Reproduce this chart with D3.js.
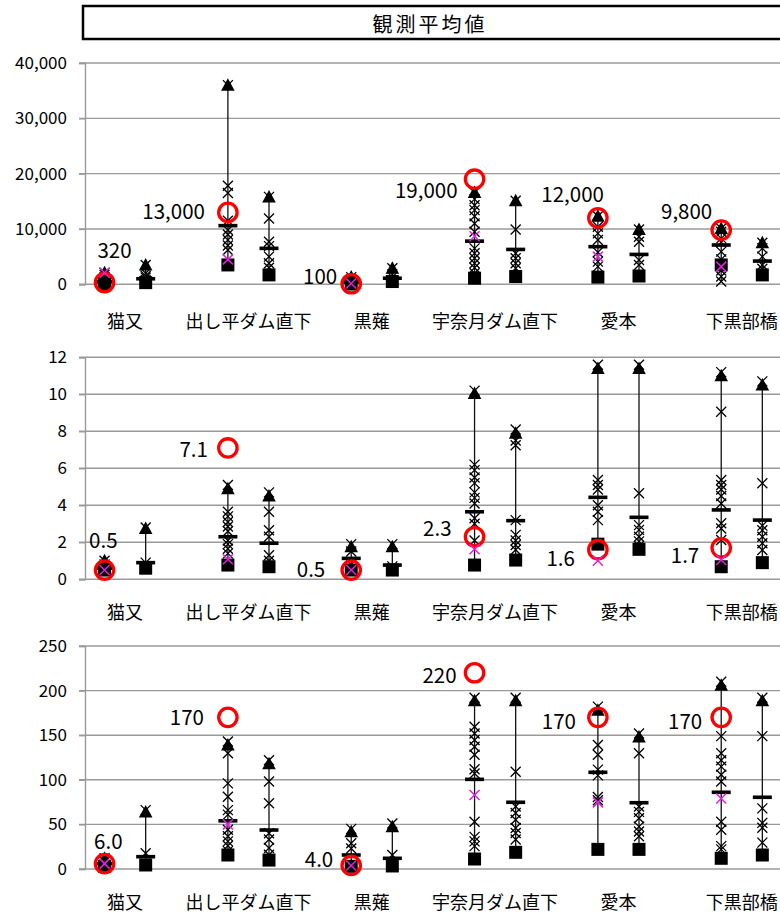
<!DOCTYPE html>
<html><head><meta charset="utf-8">
<script src="https://cdn.jsdelivr.net/npm/d3@7"></script>
<style>
body{margin:0;background:#fff}
svg{display:block}
text{font-family:"Noto Sans CJK JP","Noto Sans",sans-serif;fill:#000}
</style>
</head><body>
<script>
// Stations (each has a left and a right column of observations)
const stations = ["猫又", "出し平ダム直下", "黒薙", "宇奈月ダム直下", "愛本", "下黒部橋"];
const chartTitle = "観測平均値";

// Y-axis ticks per panel
const yTicks1 = [0, 10000, 20000, 30000, 40000];
const yTicks2 = [0, 2, 4, 6, 8, 10, 12];
const yTicks3 = [0, 50, 100, 150, 200, 250];

// Panel 1 — [left, right] per station
const p1Min  = [[80, 300], [3500, 1700], [50, 500], [1100, 1400], [1300, 1500], [3500, 1700]];
const p1Max  = [[2100, 3500], [36000, 15800], [1300, 2900], [16600, 15100], [12300, 9900], [10100, 7500]];
const p1Mean = [[450, 1000], [10600, 6500], [400, 1100], [7800, 6300], [6800, 5400], [7100, 4200]];
const p1Obs  = [
  [[2100, 1700, 1300, 900, 600, 300], [3500, 2000, 1500, 1200, 800, 500]],
  [[36000, 17800, 16500, 11500, 9800, 9000, 8000, 7000, 6200], [15800, 11900, 7700, 6900, 5000, 3800, 3000]],
  [[1300, 900, 600], [2900, 1800, 1300, 700]],
  [[16600, 15400, 14300, 13400, 12300, 11000, 9500, 6500, 5600, 4700, 3800, 3000, 2000], [15100, 9900, 5600, 4700, 3800, 2900]],
  [[12300, 10400, 9200, 8000, 5800, 4100, 3200], [9900, 8600, 7700, 4400, 3500]],
  [[10100, 9500, 8300, 7600, 5900, 4500, 2500, 1400, 500], [7500, 6500, 5000, 3500, 2800]]
];
const p1Pink   = [2100, 4500, 150, 8700, 5000, 3200];
const p1Circle = [320, 13000, 100, 19000, 12000, 9800];

// Panel 2
const p2Min  = [[0.5, 0.6], [0.77, 0.68], [0.5, 0.5], [0.77, 1.04], [1.9, 1.62], [0.68, 0.9]];
const p2Max  = [[1.0, 2.75], [4.9, 4.5], [1.76, 1.76], [10.05, 7.9], [11.4, 11.4], [11.0, 10.5]];
const p2Mean = [[0.6, 0.9], [2.3, 1.95], [1.13, 0.77], [3.65, 3.17], [4.43, 3.35], [3.75, 3.2]];
const p2Obs  = [
  [[1.0, 0.8, 0.6], [2.8, 0.9, 0.7]],
  [[5.1, 3.65, 3.4, 3.1, 2.85, 2.6, 2.1, 1.9, 1.65, 1.4], [4.7, 3.65, 2.65, 2.3, 1.3, 1.0]],
  [[1.9, 1.5, 0.8], [1.9, 0.7]],
  [[10.2, 6.2, 5.9, 5.5, 5.2, 4.7, 4.4, 4.1, 3.3, 3.0, 2.1], [8.1, 7.5, 7.25, 3.2, 2.4, 2.1, 1.85, 1.6]],
  [[11.6, 5.37, 5.1, 4.85, 4.0, 3.65, 3.2], [11.6, 4.65, 2.93, 2.67, 2.3, 2.05, 1.8]],
  [[11.2, 9.06, 5.37, 5.1, 4.85, 4.5, 4.1, 3.03, 2.75, 2.12], [10.7, 5.19, 2.9, 2.65, 2.3, 1.95, 1.58]]
];
const p2Pink   = [0.5, 1.08, 0.5, 1.62, 1.0, 1.04];
const p2Circle = [0.5, 7.1, 0.5, 2.3, 1.6, 1.7];

// Panel 3
const p3Min  = [[3, 4.5], [15.7, 10], [3, 3.4], [11.2, 18.7], [22, 22], [12, 15.7]];
const p3Max  = [[12, 64], [139, 118], [41.8, 47.5], [188.7, 188.7], [178, 148], [206, 188.7]];
const p3Mean = [[6, 13.8], [54, 43.7], [15.7, 12], [100.5, 74.8], [108.4, 74.3], [86, 80.4]];
const p3Obs  = [
  [[12, 8], [66, 17.6]],
  [[143, 129.7, 96, 81, 66, 61, 44, 36.7, 31, 26, 20], [122, 98, 73.7, 40, 33, 23.6, 16]],
  [[45, 28.8, 23], [51, 15.7]],
  [[192, 159.5, 152, 144.7, 137, 128, 111.8, 107, 53, 36, 31, 25.6], [192, 109, 70, 62.8, 55.3, 46, 40.4, 33]],
  [[182, 139, 128, 111.4, 105, 80.7, 77], [152, 129.7, 70, 64, 56.8, 47.5, 42, 36.7]],
  [[210, 149, 129.7, 122, 114.8, 105.6, 98, 53, 44, 25.6, 22], [192, 149, 68, 51.7, 46.3, 29.6]]
];
const p3Pink   = [6, 50, 4, 83, 74.7, 79];
const p3Circle = [6.0, 170, 4.0, 220, 170, 170];

// Label offsets from each circle: [dx of text end, dy of text centre]
const p1LabelShift = [[27, -34], [-23, -2], [-14, -9], [-17, 10], [6, -25], [-9, -20]];
const p2LabelShift = [[13, -31], [-20, 0], [-26, -2], [-23, -10], [-23, 7], [-22, 6]];
const p3LabelShift = [[18, -24], [-24, -1], [-18, -7], [-18, 1], [-22, 3], [-19, 3]];

const W = 780, H = 916;
const svg = d3.select("body").append("svg").attr("width", W).attr("height", H);

// Title box
svg.append("rect").attr("x", 83).attr("y", 6).attr("width", 760).attr("height", 33)
  .attr("fill", "#fff").attr("stroke", "#000").attr("stroke-width", 2.5);
svg.append("text").attr("x", 430).attr("y", 23).attr("text-anchor", "middle")
  .attr("dominant-baseline", "central").style("font-size", "20px").style("letter-spacing", "3px")
  .text(chartTitle);

// Slot scale: each station uses three slots (left, right, gap)
const axisX = 85;
const slot = d3.scaleLinear().domain([-0.5, 17.5]).range([84, 824]);
const plotRight = 830;

const panels = [
  {min: p1Min, max: p1Max, mean: p1Mean, obs: p1Obs, pink: p1Pink, circle: p1Circle, shift: p1LabelShift,
   ticks: yTicks1, fmt: d3.format(","), top: 63, bottom: 284.3, catY: 320},
  {min: p2Min, max: p2Max, mean: p2Mean, obs: p2Obs, pink: p2Pink, circle: p2Circle, shift: p2LabelShift,
   ticks: yTicks2, fmt: d3.format("d"), top: 357.3, bottom: 579.3, catY: 611},
  {min: p3Min, max: p3Max, mean: p3Mean, obs: p3Obs, pink: p3Pink, circle: p3Circle, shift: p3LabelShift,
   ticks: yTicks3, fmt: d3.format("d"), top: 646, bottom: 869, catY: 901}
];

const labelFmt = v => v < 10 ? v.toFixed(1) : d3.format(",")(v);
const xPath = s => `M${-s},${-s}L${s},${s}M${-s},${s}L${s},${-s}`;

panels.forEach(p => {
  const y = d3.scaleLinear().domain([0, d3.max(p.ticks)]).range([p.bottom, p.top]);
  const g = svg.append("g");

  // Gridlines
  g.append("g").selectAll("line").data(p.ticks).join("line")
    .attr("x1", axisX - 6).attr("x2", plotRight)
    .attr("y1", d => y(d)).attr("y2", d => y(d))
    .attr("stroke", "#9a9a9a").attr("stroke-width", 1.4);

  // Y axis
  const ax = g.append("g").attr("transform", `translate(${axisX},0)`)
    .call(d3.axisLeft(y).tickValues(p.ticks).tickFormat(p.fmt).tickSize(6).tickPadding(12));
  ax.select(".domain").attr("stroke", "#9a9a9a").attr("stroke-width", 1.4);
  ax.selectAll(".tick line").attr("stroke", "#9a9a9a").attr("stroke-width", 1.4);
  ax.selectAll(".tick text").style("font-size", "17px").attr("font-family", null);

  // Station labels
  g.append("g").selectAll("text").data(stations).join("text")
    .attr("x", (d, i) => slot(3 * i + 0.5)).attr("y", p.catY)
    .attr("text-anchor", "middle").attr("dominant-baseline", "central")
    .style("font-size", "18px").text(d => d);

  // Columns
  stations.forEach((st, i) => {
    [0, 1].forEach(side => {
      const cx = slot(3 * i + side);
      const vals = p.obs[i][side].concat([p.min[i][side], p.max[i][side]]);
      const col = g.append("g").attr("transform", `translate(${cx},0)`);
      col.append("line").attr("x1", 0).attr("x2", 0)
        .attr("y1", y(d3.min(vals))).attr("y2", y(d3.max(vals)))
        .attr("stroke", "#111").attr("stroke-width", 1.3);
      col.selectAll("path.obs").data(p.obs[i][side]).join("path").attr("class", "obs")
        .attr("transform", d => `translate(0,${y(d)})`)
        .attr("d", xPath(5)).attr("stroke", "#000").attr("stroke-width", 1.3).attr("fill", "none");
      col.append("rect").attr("x", -9.5).attr("width", 19).attr("height", 3.6)
        .attr("y", y(p.mean[i][side]) - 1.8).attr("fill", "#000");
      col.append("rect").attr("x", -6.5).attr("width", 13).attr("height", 13)
        .attr("y", y(p.min[i][side]) - 6.5).attr("fill", "#000");
      col.append("path").attr("transform", `translate(0,${y(p.max[i][side])})`)
        .attr("d", "M0,-7L6.8,5.5L-6.8,5.5Z").attr("fill", "#000");
      if (side === 0) {
        col.append("circle").attr("cy", y(p.circle[i])).attr("r", 9.2)
          .attr("fill", "none").attr("stroke", "#ff0000").attr("stroke-width", 3.3);
        col.append("path").attr("transform", `translate(0,${y(p.pink[i])})`)
          .attr("d", xPath(5)).attr("stroke", "#e020e0").attr("stroke-width", 1.5).attr("fill", "none");
        col.append("text").attr("x", p.shift[i][0]).attr("y", y(p.circle[i]) + p.shift[i][1])
          .attr("text-anchor", "end").attr("dominant-baseline", "central")
          .style("font-size", "20.5px").text(labelFmt(p.circle[i]));
      }
    });
  });
});
</script>
</body></html>
